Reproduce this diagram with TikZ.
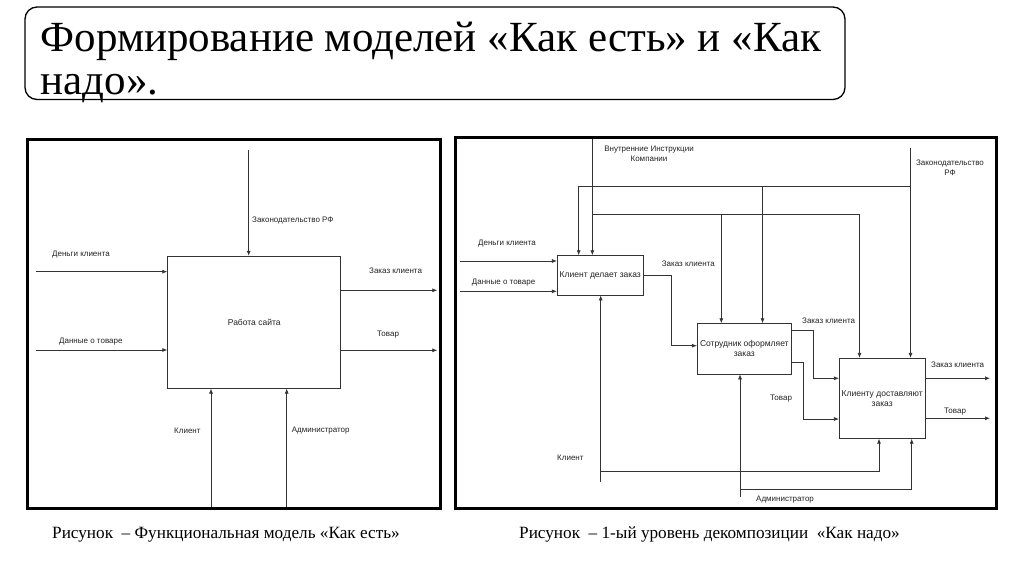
\documentclass[tikz,border=0pt]{standalone}
\usepackage{fontspec}
\setmainfont{Liberation Serif}
\setsansfont{Liberation Sans}
\usetikzlibrary{arrows.meta}
\definecolor{lncol}{HTML}{333333}
\definecolor{txcol}{HTML}{222222}
\begin{document}
\begin{tikzpicture}[x=1pt,y=-1pt,
  lbl/.style={font=\sffamily\fontsize{8}{9.5}\selectfont, text=txcol, inner sep=0pt, anchor=west},
  clbl/.style={font=\sffamily\fontsize{8}{10}\selectfont, text=txcol, inner sep=0pt, align=center},
  fnbox/.style={draw=lncol, line width=0.8pt, inner sep=1pt, align=center, font=\sffamily\fontsize{8.5}{10}\selectfont, text=txcol},
  arr/.style={draw=lncol, -{Latex[length=5pt,width=4pt]}, line width=0.7pt},
  ln/.style={draw=lncol, line width=0.7pt},
  framebox/.style={draw=black, line width=3pt},
  captext/.style={font=\fontsize{17.2}{19}\selectfont, inner sep=0pt, anchor=base west}]
\useasboundingbox (0,0) rectangle (1024,574);

% Title
\draw[line width=1.3pt, rounded corners=12pt] (25,7) rectangle (845,99.5);
\node[anchor=north west, inner sep=0pt, align=left, font=\fontsize{43}{43.5}\selectfont] (title) at (40.5,21.5)
  {Формирование моделей «Как есть» и «Как\\надо».};

% ===== Left diagram =====
\draw[framebox] (27.3,139.3) rectangle (440.7,508.3);
\node[fnbox, minimum width=173pt, minimum height=132pt, font=\sffamily\fontsize{8.5}{10}\selectfont] (L) at (254.2,322.2) {Работа сайта};

\coordinate (Lc) at (248.7,150);
\draw[arr] (Lc) -- (Lc |- L.north);
\coordinate (Li1) at (36,271.7);
\coordinate (Li2) at (36,350);
\draw[arr] (Li1) -- (Li1 -| L.west);
\draw[arr] (Li2) -- (Li2 -| L.west);
\coordinate (Lo1) at (437.3,290.3);
\coordinate (Lo2) at (437.3,350.3);
\draw[arr] (Lo1 -| L.east) -- (Lo1);
\draw[arr] (Lo2 -| L.east) -- (Lo2);
\coordinate (Lm1) at (211,507);
\coordinate (Lm2) at (286.7,507);
\draw[arr] (Lm1) -- (Lm1 |- L.south);
\draw[arr] (Lm2) -- (Lm2 |- L.south);

\node[lbl] (lzk) at (252,220.7) {Законодательство РФ};
\node[lbl] (ldk) at (52,255) {Деньги клиента};
\node[lbl] (ldt) at (59,341.7) {Данные о товаре};
\node[lbl] (lzc) at (369,271) {Заказ клиента};
\node[lbl] (ltv) at (377,335) {Товар};
\node[lbl] (lkl) at (174,431) {Клиент};
\node[lbl] (lad) at (291.7,431) {Администратор};

% ===== Right diagram =====
\draw[framebox] (455,137) rectangle (996,508.3);
\node[fnbox, minimum width=86pt, minimum height=39.3pt] (A) at (600.3,275.3) {Клиент делает заказ};
\node[fnbox, minimum width=94pt, minimum height=50.3pt] (B) at (744.3,348.8) {Сотрудник оформляет\\заказ};
\node[fnbox, minimum width=85.7pt, minimum height=80pt] (C) at (882.2,398.3) {Клиенту доставляют\\заказ};

% Internal instructions control
\coordinate (ii) at (592.3,138.5);
\draw[arr] (ii) -- (ii |- A.north);
\coordinate (j1) at (592.3,214.3);
\coordinate (j1r) at (859.5,214.3);
\draw[arr] (j1) -- (j1r) -- (j1r |- C.north);
\coordinate (j1b) at (721.3,214.3);
\draw[arr] (j1b) -- (j1b |- B.north);

% Legislation control
\coordinate (zk) at (910.5,148.3);
\draw[arr] (zk) -- (zk |- C.north);
\coordinate (zkj) at (910.5,186);
\coordinate (zkl) at (578.7,186);
\draw[arr] (zkj) -- (zkl) -- (zkl |- A.north);
\coordinate (zkb) at (762.5,186);
\draw[arr] (zkb) -- (zkb |- B.north);

% Inputs to A
\coordinate (ri1) at (460,261);
\coordinate (ri2) at (460,291.3);
\draw[arr] (ri1) -- (ri1 -| A.west);
\draw[arr] (ri2) -- (ri2 -| A.west);

% A -> B
\coordinate (ab1) at (671.7,275.5);
\coordinate (ab2) at (671.7,345.7);
\draw[arr] (ab1 -| A.east) -- (ab1) -- (ab2) -- (ab2 -| B.west);

% B -> C
\coordinate (bc1) at (813.3,330);
\coordinate (bc2) at (813.3,378.3);
\draw[arr] (bc1 -| B.east) -- (bc1) -- (bc2) -- (bc2 -| C.west);
\coordinate (bd1) at (803.3,362);
\coordinate (bd2) at (803.3,419);
\draw[arr] (bd1 -| B.east) -- (bd1) -- (bd2) -- (bd2 -| C.west);

% Outputs of C
\coordinate (co1) at (990,378.3);
\coordinate (co2) at (990,418.3);
\draw[arr] (co1 -| C.east) -- (co1);
\draw[arr] (co2 -| C.east) -- (co2);

% Mechanisms
\coordinate (kl0) at (600.7,482);
\draw[arr] (kl0) -- (kl0 |- A.south);
\coordinate (kl1) at (600.7,471.7);
\coordinate (kl2) at (879,471.7);
\draw[arr] (kl1) -- (kl2) -- (kl2 |- C.south);
\coordinate (ad0) at (740,497.3);
\draw[arr] (ad0) -- (ad0 |- B.south);
\coordinate (ad1) at (740,489.3);
\coordinate (ad2) at (911.7,489.3);
\draw[arr] (ad1) -- (ad2) -- (ad2 |- C.south);

% Right labels
\node[clbl] (rii) at (649,153.3) {Внутренние Инструкции\\Компании};
\node[clbl] (rzk) at (950,167.3) {Законодательство\\РФ};
\node[lbl] (rdk) at (478,244) {Деньги клиента};
\node[lbl] (rdt) at (471.7,282.3) {Данные о товаре};
\node[lbl] (rz1) at (661.7,264) {Заказ клиента};
\node[lbl] (rz2) at (802,320.7) {Заказ клиента};
\node[lbl] (rt1) at (770,398.3) {Товар};
\node[lbl] (rz3) at (931,365) {Заказ клиента};
\node[lbl] (rt2) at (944,411.7) {Товар};
\node[lbl] (rkl) at (557,457.3) {Клиент};
\node[lbl] (rad) at (756,500) {Администратор};

% Captions
\node[captext] (cap1) at (52,538) {Рисунок \ – Функциональная модель «Как есть»};
\node[captext] (cap2) at (519,538) {Рисунок \ – 1-ый уровень декомпозиции \ «Как надо»};
\end{tikzpicture}
\end{document}
